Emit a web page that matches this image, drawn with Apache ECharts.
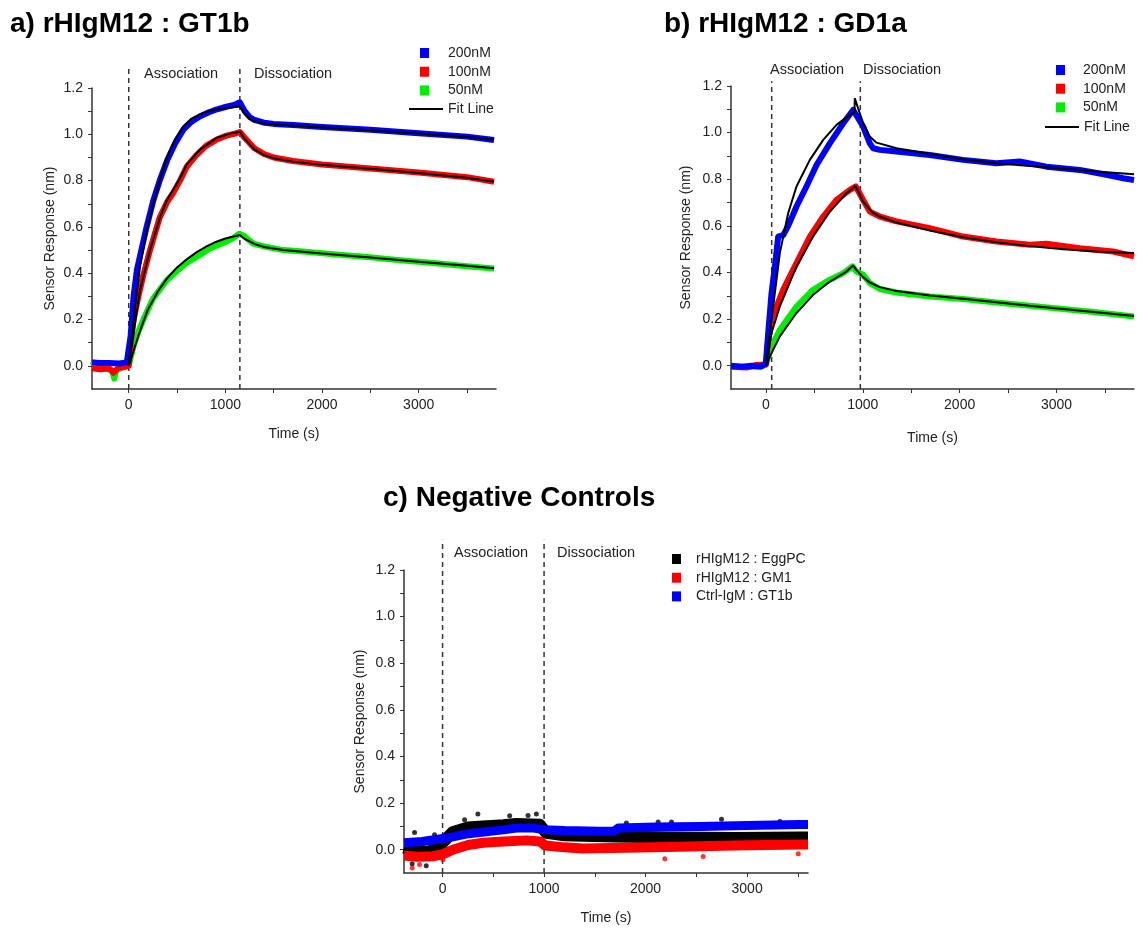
<!DOCTYPE html>
<html>
<head>
<meta charset="utf-8">
<script src="https://cdn.jsdelivr.net/npm/echarts@6/dist/echarts.min.js"></script>
<style>
  html, body { margin: 0; padding: 0; background: #fff; }
  #main { width: 1144px; height: 928px; }
</style>
</head>
<body>
<div id="main"></div>
<script>
// tick labels / ticks
const xLabels = [0, 1000, 2000, 3000];
const xTicks = [0, 500, 1000, 1500, 2000, 2500, 3000, 3500];
const yLabels = [0, 0.2, 0.4, 0.6, 0.8, 1.0, 1.2];
const yTicks = [0, 0.1, 0.2, 0.3, 0.4, 0.5, 0.6, 0.7, 0.8, 0.9, 1.0, 1.1, 1.2];

// a) rHIgM12 : GT1b  -- [time (s), response (nm)]
const a200 = [[-380,0.015],[-300,0.012],[-200,0.012],[-100,0.01],[-20,0.015],[0,0.02],[20,0.13],[50,0.3],[85,0.415],[120,0.48],[185,0.6],[255,0.715],[320,0.8],[400,0.89],[480,0.96],[565,1.02],[650,1.055],[740,1.078],[830,1.095],[913,1.108],[1000,1.118],[1090,1.127],[1150,1.138],[1200,1.1],[1250,1.075],[1300,1.062],[1400,1.05],[1500,1.045],[1700,1.04],[2000,1.032],[2500,1.02],[3000,1.005],[3500,0.99],[3780,0.975]];
const a100 = [[-380,-0.01],[-300,-0.015],[-200,-0.012],[-160,-0.03],[-140,-0.035],[-110,-0.01],[-50,-0.005],[0,0.0],[20,0.1],[50,0.2],[100,0.3],[150,0.39],[220,0.5],[320,0.64],[400,0.71],[465,0.75],[530,0.8],[600,0.86],[700,0.91],[800,0.95],[900,0.975],[1000,0.993],[1100,1.003],[1150,1.01],[1200,0.985],[1300,0.94],[1400,0.915],[1500,0.9],[1700,0.885],[2000,0.87],[2500,0.852],[3000,0.835],[3500,0.815],[3780,0.795]];
const a50 = [[-380,0.02],[-340,0.0],[-250,-0.01],[-170,-0.02],[-150,-0.055],[-130,-0.02],[-60,-0.005],[0,0.0],[48,0.083],[100,0.148],[151,0.2],[250,0.29],[393,0.37],[500,0.41],[600,0.445],[740,0.48],[830,0.505],[913,0.52],[1000,0.535],[1085,0.553],[1140,0.57],[1190,0.563],[1240,0.545],[1290,0.528],[1430,0.513],[1600,0.5],[1773,0.495],[2118,0.482],[2465,0.47],[2809,0.456],[3154,0.444],[3500,0.43],[3780,0.42]];
const aFit200 = [[0,0],[50,0.2],[117,0.43],[186,0.585],[255,0.7],[320,0.8],[395,0.9],[480,0.98],[565,1.035],[650,1.068],[740,1.087],[830,1.1],[913,1.108],[1000,1.113],[1150,1.12],[1200,1.088],[1250,1.068],[1300,1.057],[1400,1.047],[1600,1.04],[2000,1.03],[2500,1.017],[3000,1.003],[3500,0.988],[3780,0.978]];
const aFit100 = [[0,0],[50,0.14],[117,0.327],[220,0.5],[324,0.642],[393,0.714],[465,0.765],[530,0.81],[600,0.87],[740,0.935],[913,0.985],[1050,1.003],[1150,1.011],[1200,0.98],[1300,0.935],[1400,0.91],[1500,0.897],[1700,0.882],[2000,0.868],[2500,0.851],[3000,0.833],[3500,0.812],[3780,0.795]];
const aFit50 = [[0,0],[100,0.13],[150,0.19],[200,0.245],[300,0.32],[400,0.38],[500,0.425],[600,0.46],[700,0.49],[800,0.515],[900,0.535],[1000,0.55],[1150,0.565],[1200,0.548],[1300,0.527],[1400,0.513],[1600,0.5],[2000,0.485],[2500,0.468],[3000,0.45],[3500,0.432],[3780,0.422]];
const aPhases = [0, 1150];

// b) rHIgM12 : GD1a
const b200 = [[-360,0.0],[-250,-0.005],[-150,0.0],[-50,-0.003],[0,0.01],[24,0.14],[58,0.31],[93,0.426],[127,0.554],[179,0.56],[230,0.6],[316,0.683],[420,0.77],[523,0.861],[660,0.954],[798,1.04],[901,1.097],[918,1.104],[1004,1.026],[1073,0.954],[1108,0.933],[1176,0.926],[1348,0.919],[1692,0.904],[2036,0.883],[2380,0.869],[2621,0.876],[2896,0.854],[3240,0.84],[3516,0.819],[3688,0.804],[3800,0.797]];
const b100 = [[-360,-0.005],[-200,-0.008],[-100,0.003],[0,0.005],[24,0.111],[58,0.197],[110,0.254],[179,0.326],[316,0.44],[454,0.554],[592,0.64],[729,0.711],[867,0.754],[929,0.769],[1004,0.711],[1073,0.661],[1176,0.64],[1348,0.619],[1692,0.59],[2036,0.554],[2380,0.533],[2724,0.519],[2896,0.523],[3240,0.504],[3585,0.49],[3800,0.469]];
const b50 = [[-360,0.0],[-200,-0.003],[-50,-0.005],[0,0.004],[58,0.083],[144,0.154],[316,0.254],[488,0.326],[660,0.369],[798,0.397],[894,0.426],[936,0.404],[1004,0.39],[1073,0.354],[1176,0.329],[1348,0.314],[1692,0.297],[2036,0.286],[2380,0.271],[2724,0.257],[3068,0.243],[3412,0.229],[3800,0.211]];
const bFit200 = [[0,0],[58,0.197],[144,0.483],[230,0.654],[316,0.769],[454,0.883],[592,0.969],[729,1.033],[867,1.076],[915,1.09],[918,1.147],[1004,1.04],[1073,0.983],[1142,0.957],[1348,0.933],[1692,0.909],[2036,0.886],[2380,0.869],[2724,0.857],[3068,0.846],[3412,0.833],[3800,0.821]];
const bFit100 = [[0,0],[58,0.14],[144,0.254],[316,0.426],[488,0.554],[660,0.661],[832,0.74],[925,0.771],[1004,0.704],[1090,0.661],[1176,0.64],[1348,0.614],[1692,0.58],[2036,0.551],[2380,0.53],[2724,0.513],[3068,0.5],[3412,0.49],[3800,0.483]];
const bFit50 = [[0,0],[58,0.054],[144,0.126],[316,0.226],[488,0.304],[660,0.361],[832,0.404],[900,0.43],[936,0.41],[1004,0.38],[1073,0.357],[1176,0.337],[1348,0.32],[1692,0.301],[2036,0.287],[2380,0.272],[2724,0.257],[3068,0.243],[3412,0.229],[3800,0.213]];
const bPhases = [60, 975];

// c) Negative Controls
const cEggPC = [[-380,0.01],[-300,0.0],[-150,-0.01],[-30,0.01],[0,0.03],[100,0.075],[250,0.095],[400,0.1],[600,0.105],[726,0.11],[957,0.107],[1022,0.072],[1200,0.062],[1384,0.06],[1713,0.057],[2206,0.052],[2863,0.05],[3520,0.052],[3600,0.052]];
const cGM1 = [[-380,-0.025],[-250,-0.03],[-100,-0.028],[0,-0.02],[100,0.0],[250,0.02],[400,0.03],[600,0.035],[825,0.04],[960,0.035],[1010,0.018],[1200,0.01],[1384,0.005],[1800,0.008],[2206,0.012],[2863,0.018],[3520,0.022],[3600,0.022]];
const cCtrl = [[-380,0.03],[-200,0.035],[-30,0.046],[100,0.055],[233,0.067],[450,0.078],[600,0.085],[726,0.093],[900,0.093],[990,0.086],[1200,0.082],[1548,0.079],[1690,0.08],[1730,0.093],[2100,0.097],[2535,0.1],[3000,0.104],[3520,0.108],[3600,0.108]];
const cEggPCOut = [[-276,0.074],[-299,-0.06],[-161,-0.069],[-79,0.064],[217,0.129],[348,0.153],[661,0.146],[842,0.147],[924,0.153],[1811,0.114],[2124,0.119],[2255,0.119],[2748,0.131],[3323,0.121]];
const cGM1Out = [[-299,-0.079],[-227,-0.064],[3,-0.043],[2189,-0.039],[2567,-0.029],[3504,-0.017]];
const cPhases = [0, 1000];

const FONT = "'Liberation Sans', Arial, sans-serif";
const INK = '#222';
const AXIS = '#333';

function xAxis(grid, min, max, gap) {
  return {
    type: 'value', gridIndex: grid, min: min, max: max,
    name: 'Time (s)', nameLocation: 'middle', nameGap: gap,
    nameTextStyle: { fontSize: 14, color: INK, fontFamily: FONT },
    axisLine: { onZero: false, lineStyle: { color: AXIS, width: 1.5 } },
    axisTick: { customValues: xTicks, length: 4, lineStyle: { color: AXIS } },
    axisLabel: { customValues: xLabels, margin: 9, fontSize: 14, color: INK, fontFamily: FONT,
      formatter: v => String(v) },
    splitLine: { show: false }
  };
}
function yAxis(grid, gap) {
  return {
    type: 'value', gridIndex: grid, min: -0.1, max: 1.2,
    name: 'Sensor Response (nm)', nameLocation: 'middle', nameGap: gap,
    nameTextStyle: { fontSize: 14, color: INK, fontFamily: FONT },
    axisLine: { onZero: false, lineStyle: { color: AXIS, width: 1.5 } },
    axisTick: { customValues: yTicks, length: 4, lineStyle: { color: AXIS } },
    axisLabel: { customValues: yLabels, margin: 9, fontSize: 14, color: INK, fontFamily: FONT,
      formatter: v => v.toFixed(1) },
    splitLine: { show: false }
  };
}
function band(name, grid, data, color, width) {
  return {
    name: name, type: 'line', xAxisIndex: grid, yAxisIndex: grid, data: data,
    symbol: 'none', silent: true, itemStyle: { color: color },
    lineStyle: { color: color, width: width, cap: 'butt', join: 'round' }
  };
}
function fit(grid, data) {
  return {
    name: 'Fit Line', type: 'line', xAxisIndex: grid, yAxisIndex: grid, data: data,
    symbol: 'none', silent: true, z: 5, itemStyle: { color: '#000' },
    lineStyle: { color: '#000', width: 2 }
  };
}
function dots(name, grid, data, color) {
  return {
    name: name, type: 'scatter', xAxisIndex: grid, yAxisIndex: grid, data: data,
    symbolSize: 5, silent: true, itemStyle: { color: color }
  };
}
function phase(grid, t, top) {
  return {
    name: 'phase', type: 'line', xAxisIndex: grid, yAxisIndex: grid,
    data: [[t, -0.1], [t, top]], symbol: 'none', silent: true, clip: false, z: 1,
    lineStyle: { color: AXIS, width: 1.5, type: [5, 4] }
  };
}
function labelText(text, left, top) {
  return { type: 'text', left: left, top: top,
    style: { text: text, fontSize: 14.5, fill: INK, fontFamily: FONT } };
}
function squareLegend(left, top, names, pad) {
  return { left: left, top: top, orient: 'vertical', padding: 0, itemGap: 4.7,
    itemWidth: 9, itemHeight: 10, icon: 'rect', selectedMode: false, data: names,
    textStyle: { fontSize: 14, color: INK, fontFamily: FONT, padding: [0, 0, 0, pad] } };
}
function lineLegend(left, top) {
  return { left: left, top: top, padding: 0, itemWidth: 34, itemHeight: 2, icon: 'rect',
    selectedMode: false, data: ['Fit Line'],
    textStyle: { fontSize: 14, color: INK, fontFamily: FONT } };
}

const chart = echarts.init(document.getElementById('main'));
chart.setOption({
  animation: false,
  backgroundColor: '#fff',
  title: [
    { text: 'a) rHIgM12 : GT1b', left: 10, top: 10, padding: 0,
      textStyle: { fontSize: 28, fontWeight: 'bold', color: '#000', fontFamily: FONT } },
    { text: 'b) rHIgM12 : GD1a', left: 664, top: 10, padding: 0,
      textStyle: { fontSize: 28, fontWeight: 'bold', color: '#000', fontFamily: FONT } },
    { text: 'c) Negative Controls', left: 383, top: 484, padding: 0,
      textStyle: { fontSize: 28, fontWeight: 'bold', color: '#000', fontFamily: FONT } }
  ],
  grid: [
    { left: 92, top: 88, width: 404, height: 301 },
    { left: 731, top: 86, width: 403, height: 303 },
    { left: 404, top: 570, width: 404, height: 303 }
  ],
  xAxis: [xAxis(0, -380, 3800, 38), xAxis(1, -360, 3800, 42), xAxis(2, -380, 3600, 38)],
  yAxis: [yAxis(0, 35), yAxis(1, 38), yAxis(2, 37)],
  legend: [
    squareLegend(420, 46, ['200nM', '100nM', '50nM'], 14),
    lineLegend(409, 102),
    squareLegend(1056, 63, ['200nM', '100nM', '50nM'], 13),
    lineLegend(1045, 120),
    squareLegend(672, 552, ['rHIgM12 : EggPC', 'rHIgM12 : GM1', 'Ctrl-IgM : GT1b'], 10)
  ],
  graphic: [
    labelText('Association', 144, 66), labelText('Dissociation', 254, 66),
    labelText('Association', 770, 62), labelText('Dissociation', 863, 62),
    labelText('Association', 454, 545), labelText('Dissociation', 557, 545)
  ],
  series: [
    phase(0, aPhases[0], 1.286), phase(0, aPhases[1], 1.286),
    band('50nM', 0, a50, '#00ee00', 6),
    band('100nM', 0, a100, '#ff0000', 6),
    band('200nM', 0, a200, '#0000ff', 6),
    fit(0, aFit50), fit(0, aFit100), fit(0, aFit200),

    phase(1, bPhases[0], 1.22), phase(1, bPhases[1], 1.22),
    band('50nM', 1, b50, '#00ee00', 6),
    band('100nM', 1, b100, '#ff0000', 6),
    band('200nM', 1, b200, '#0000ff', 6),
    fit(1, bFit50), fit(1, bFit100), fit(1, bFit200),

    phase(2, cPhases[0], 1.33), phase(2, cPhases[1], 1.33),
    band('rHIgM12 : EggPC', 2, cEggPC, '#000000', 12),
    band('rHIgM12 : GM1', 2, cGM1, '#ff0000', 10),
    dots('rHIgM12 : GM1', 2, cGM1Out, '#ff0000'),
    dots('rHIgM12 : EggPC', 2, cEggPCOut, '#000000'),
    band('Ctrl-IgM : GT1b', 2, cCtrl, '#0000ff', 9)
  ]
});
</script>
</body>
</html>
